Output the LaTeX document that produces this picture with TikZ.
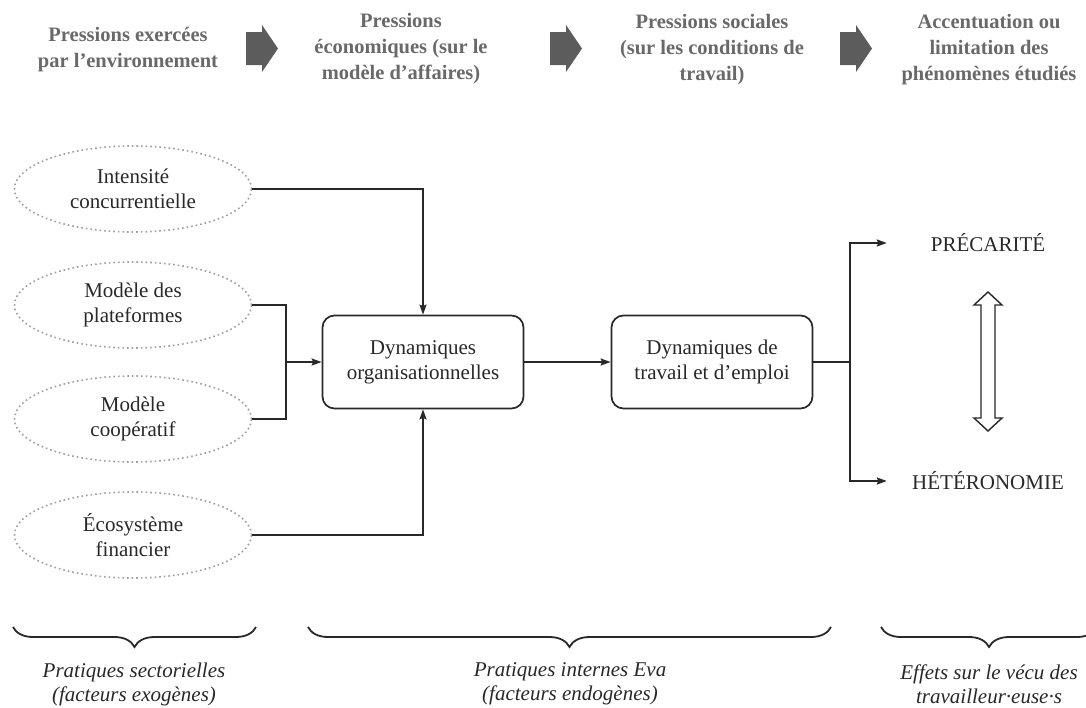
\documentclass[tikz,border=0pt]{standalone}
\usepackage{fontspec}
\setmainfont{Liberation Serif}
\usetikzlibrary{shapes.geometric,decorations.pathreplacing,arrows.meta}
\definecolor{hdrgray}{RGB}{105,105,105}
\definecolor{arrgray}{RGB}{92,92,92}
\definecolor{txtgray}{RGB}{40,40,40}
\begin{document}
\begin{tikzpicture}[x=1pt,y=-1pt,>={Stealth[length=10pt,width=7pt,inset=1.5pt]},
    txt/.style={font=\fontsize{21}{25}\selectfont,text=txtgray,align=center},
    hdr/.style={txt,font=\fontsize{20.5}{26}\selectfont\bfseries,text=hdrgray},
    factor/.style={txt,ellipse,draw=gray!75,line width=1.6pt,dash pattern=on 1.6pt off 3pt,minimum width=237pt,minimum height=86pt,inner sep=0pt},
    dyn/.style={txt,draw=txtgray,line width=1.7pt,rounded corners=12pt,minimum width=201pt,minimum height=93pt},
    effect/.style={txt,minimum width=202pt,inner sep=0pt},
    link/.style={line width=1.8pt,draw=txtgray},
    note/.style={txt,font=\fontsize{21}{24}\selectfont\itshape},
    grp/.style={link,decorate,decoration={brace,mirror,amplitude=20pt}}]
  \useasboundingbox (0,0) rectangle (1086,707);

  % en-tete
  \node[hdr] (hdrA) at (128,50) {Pressions exercées\\par l’environnement};
  \node[hdr] (hdrB) at (401,49) {Pressions\\économiques (sur le\\modèle d’affaires)};
  \node[hdr] (hdrC) at (712,50) {Pressions sociales\\(sur les conditions de\\travail)};
  \node[hdr] (hdrD) at (989,50) {Accentuation ou\\limitation des\\phénomènes étudiés};
  \foreach \x in {246,550,840}
    \fill[arrgray] (\x,32) -- ++(16,0) -- ++(0,-7) -- ++(16,23.5)
      -- ++(-16,23.5) -- ++(0,-7) -- ++(-16,0) -- cycle;

  % facteurs exogenes
  \node[factor] (int) at (133,189) {Intensité\\concurrentielle};
  \node[factor] (plat) at (133,305) {Modèle des\\plateformes};
  \node[factor] (coop) at (133,419) {Modèle\\coopératif};
  \node[factor] (eco) at (133,535) {Écosystème\\financier};

  % facteurs endogenes
  \node[dyn] (org) at (423,362) {Dynamiques\\organisationnelles};
  \node[dyn] (trav) at (712,362) {Dynamiques de\\travail et d’emploi};

  % effets
  \node[effect] (prec) at (988,243) {PRÉCARITÉ};
  \node[effect] (het) at (988,481) {HÉTÉRONOMIE};
  \coordinate (join) at (286,362);
  \coordinate (split) at (850,362);

  \draw[link,->] (int.east) -| (org.north);
  \draw[link,->] (eco.east) -| (org.south);
  \draw[link] (plat.east) -| (join) |- (coop.east);
  \draw[link,->] (join) -- (org.west);
  \draw[link,->] (org.east) -- (trav.west);
  \draw[link] (trav.east) -- (split);
  \draw[link,->] (split) |- (prec.west);
  \draw[link,->] (split) |- (het.west);

  % double fleche
  \draw[link,line width=1.4pt] (988,292) -- (1002,305) -- (995,305) -- (995,418)
    -- (1002,418) -- (988,431) -- (974,418) -- (981,418) -- (981,305)
    -- (974,305) -- cycle;

  % accolades
  \draw[grp] (13,627) -- (256,627);
  \draw[grp] (308,627) -- (831,627);
  \draw[grp] (881,627) -- (1097,627);
  \node[note] (sect) at (134,684) {Pratiques sectorielles\\(facteurs exogènes)};
  \node[note] (intern) at (570,684) {Pratiques internes Eva\\(facteurs endogènes)};
  \node[note] (vecu) at (989,684) {Effets sur le vécu des\\travailleur·euse·s};
\end{tikzpicture}
\end{document}
